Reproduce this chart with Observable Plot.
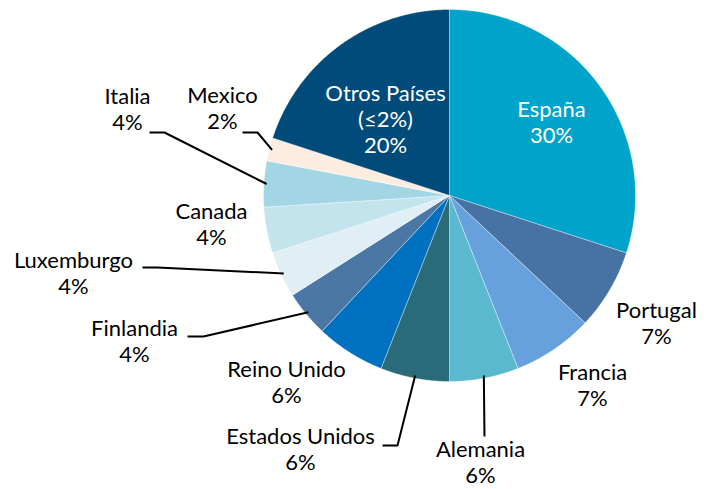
<!DOCTYPE html>
<html>
<head>
<meta charset="utf-8">
<script src="https://cdn.jsdelivr.net/npm/d3@7"></script>
<script src="https://cdn.jsdelivr.net/npm/@observablehq/plot@0.6"></script>
<style>
  html, body { margin: 0; padding: 0; background: #fff; }
</style>
</head>
<body>
<div id="chart"></div>
<script>
// ---- data ----
const countries = ["España", "Portugal", "Francia", "Alemania", "Estados Unidos", "Reino Unido",
  "Finlandia", "Luxemburgo", "Canada", "Italia", "Mexico", "Otros Países\n(≤2%)"];
const shares = [30, 7, 7, 6, 6, 6, 4, 4, 4, 4, 2, 20];
const sliceColors = ["#00A3C9", "#4673A3", "#66A1DD", "#5BB9CF", "#2A6B79", "#0071C1",
  "#4A77A3", "#E0EFF6", "#C3E3ED", "#A3D6E5", "#FDECE0", "#004B7A"];
const whiteText = ["España", "Otros Países\n(≤2%)"];

// ---- layout (pixels) ----
const W = 704, H = 489, cx = 449, cy = 195, R = 186;
const labelPos = {
  "España": [551, 121], "Portugal": [656, 322], "Francia": [592, 384], "Alemania": [480, 461],
  "Estados Unidos": [300, 448], "Reino Unido": [286, 381], "Finlandia": [134, 340],
  "Luxemburgo": [73, 272], "Canada": [211, 223], "Italia": [127, 108], "Mexico": [222, 107],
  "Otros Países\n(≤2%)": [385, 118]
};
const leaderBends = {
  "Alemania": [[484, 436]],
  "Estados Unidos": [[382, 445], [397, 445]],
  "Finlandia": [[187, 336], [203, 336]],
  "Luxemburgo": [[142, 267], [157, 267]],
  "Italia": [[149, 132], [164, 132]],
  "Mexico": [[242, 132], [257, 132]]
};

// ---- build geometry in unit-radius space ----
const ux = px => (px - cx) / R;
const uy = py => (cy - py) / R;
const total = d3.sum(shares);
const slices = [];
let cum = 0;
countries.forEach((name, i) => {
  const a0 = cum / total * 2 * Math.PI;
  cum += shares[i];
  const a1 = cum / total * 2 * Math.PI;
  slices.push({name, share: shares[i], a0, a1, mid: (a0 + a1) / 2});
});
const polyRows = [];
for (const s of slices) {
  polyRows.push({name: s.name, x: 0, y: 0});
  const steps = Math.max(2, Math.ceil((s.a1 - s.a0) / (Math.PI / 360)));
  for (let k = 0; k <= steps; k++) {
    const a = s.a0 + (s.a1 - s.a0) * k / steps;
    polyRows.push({name: s.name, x: Math.sin(a), y: Math.cos(a)});
  }
  polyRows.push({name: s.name, x: 0, y: 0});
}
const leaderRows = [];
for (const s of slices) {
  const bends = leaderBends[s.name];
  if (!bends) continue;
  bends.forEach(([px, py]) => leaderRows.push({name: s.name, x: ux(px), y: uy(py)}));
  leaderRows.push({name: s.name, x: Math.sin(s.mid) * 0.985, y: Math.cos(s.mid) * 0.985});
}
const labelRows = slices.map(s => ({
  name: s.name,
  text: s.name + "\n" + Math.round(s.share) + "%",
  x: ux(labelPos[s.name][0]),
  y: uy(labelPos[s.name][1]),
  white: whiteText.includes(s.name)
}));

const chart = Plot.plot({
  width: W,
  height: H,
  margin: 0,
  style: {background: "#fff", fontFamily: "Lato, 'Open Sans', sans-serif"},
  x: {domain: [-1, 1], range: [cx - R, cx + R], axis: null},
  y: {domain: [-1, 1], range: [cy + R, cy - R], axis: null},
  color: {domain: countries, range: sliceColors},
  marks: [
    Plot.line(polyRows, {x: "x", y: "y", z: "name", fill: "name", stroke: "#ffffff",
      strokeWidth: 0.6, strokeOpacity: 0.6, curve: "linear"}),
    Plot.line(leaderRows, {x: "x", y: "y", z: "name", stroke: "#000", strokeWidth: 2,
      strokeLinejoin: "miter", strokeLinecap: "butt", curve: "linear"}),
    Plot.text(labelRows, {x: "x", y: "y", text: "text", fontSize: 22, lineHeight: 1.2,
      textAnchor: "middle", lineAnchor: "middle",
      fill: d => d.white ? "#ffffff" : "#000000"})
  ]
});
document.getElementById("chart").appendChild(chart);
</script>
</body>
</html>
